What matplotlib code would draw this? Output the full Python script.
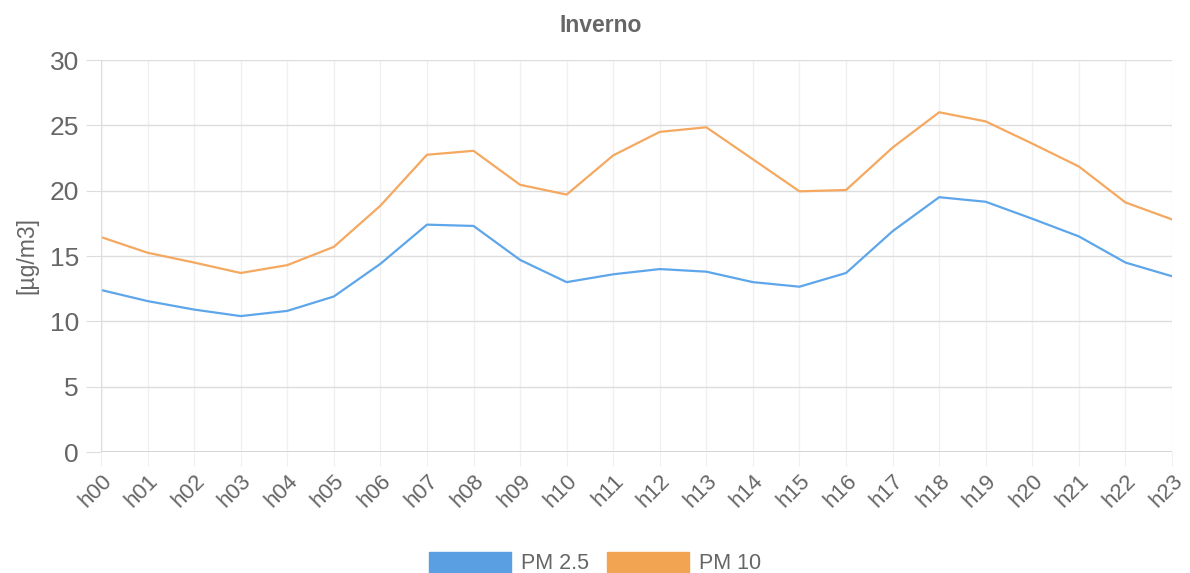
import matplotlib
matplotlib.use("Agg")
import matplotlib.pyplot as plt
from matplotlib.patches import Patch

hours = [f"h{i:02d}" for i in range(24)]
pm25 = [12.4, 11.55, 10.9, 10.4, 10.8, 11.9, 14.4, 17.4, 17.3, 14.7, 13.0, 13.6,
        14.0, 13.8, 13.0, 12.65, 13.7, 16.9, 19.5, 19.15, 17.85, 16.5, 14.5, 13.45]
pm10 = [16.45, 15.25, 14.5, 13.7, 14.3, 15.7, 18.85, 22.75, 23.05, 20.45, 19.7, 22.7,
        24.5, 24.85, 22.4, 19.95, 20.05, 23.3, 26.0, 25.3, 23.6, 21.85, 19.1, 17.8]
series_names = ["PM 2.5", "PM 10"]
line_colors = ["#5ea6ea", "#f5a860"]
patch_colors = ["#5a9fe2", "#f2a453"]
yticks = [0, 5, 10, 15, 20, 25, 30]

plt.rcParams["font.family"] = ["Liberation Sans", "DejaVu Sans"]
text_c = "#666666"

fig = plt.figure(figsize=(11.9, 5.73), dpi=100)
ax = fig.add_axes([101 / 1190, 1 - 452 / 573, (1172 - 101) / 1190, (452 - 60) / 573])

x = list(range(len(hours)))
ax.plot(x, pm25, color=line_colors[0], lw=1.6)
ax.plot(x, pm10, color=line_colors[1], lw=1.6)

ax.set_xlim(0, len(hours) - 1)
ax.set_ylim(0, 30)
ax.set_yticks(yticks)
ax.set_xticks(x)
ax.set_xticklabels(hours, rotation=45, ha="right", rotation_mode="anchor")

ax.grid(axis="y", color="#dddddd", lw=1)
ax.grid(axis="x", color="#f0f0f0", lw=1)
ax.set_axisbelow(True)
for s in ax.spines.values():
    s.set_visible(False)
ax.tick_params(axis="y", length=11, color="#dddddd", labelsize=19, labelcolor=text_c, pad=5)
ax.tick_params(axis="x", length=10, color="#f0f0f0", labelsize=16, labelcolor=text_c, pad=3)
ax.axvline(0, color="#dddddd", lw=1)
ax.axhline(0, color="#d5d5d5", lw=1.4)

ax.set_ylabel("[µg/m3]", fontsize=16.5, color=text_c, labelpad=8)
fig.text(601 / 1190, 1 - 25 / 573, "Inverno", ha="center", va="center",
         fontsize=16.5, fontweight="bold", color=text_c)

handles = [Patch(facecolor=c, edgecolor=c) for c in patch_colors]
fig.legend(handles, series_names, loc="center", bbox_to_anchor=(0.5, 1 - 563 / 573),
           ncol=2, frameon=False, fontsize=15.5, labelcolor=text_c,
           handlelength=3.8, handleheight=1.15, handletextpad=0.45, columnspacing=0.85,
           borderpad=0.0)

fig.savefig("out.png", dpi=100)
